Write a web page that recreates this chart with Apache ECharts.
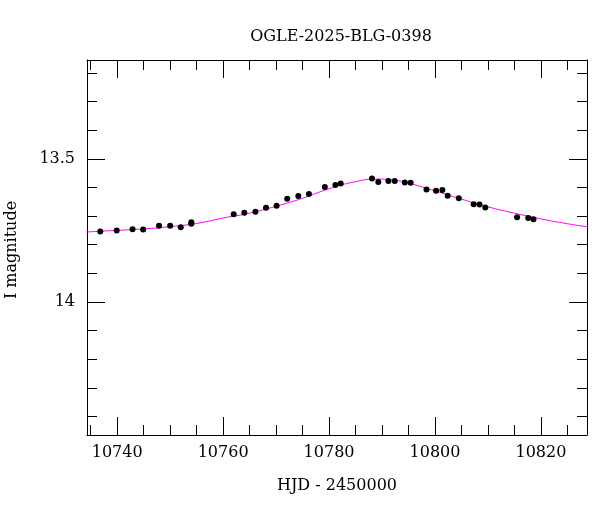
<!DOCTYPE html>
<html><head><meta charset="utf-8">
<script src="https://cdn.jsdelivr.net/npm/echarts@6/dist/echarts.min.js"></script>
<style>html,body{margin:0;background:#fff}#c{width:600px;height:512px}</style>
</head><body><div id="c"></div>
<script>
const title = 'OGLE-2025-BLG-0398';
const obsHJD = [10736.8,10739.9,10742.9,10744.9,10747.9,10750.0,10752.0,10754.0,10754.0,10762.0,10764.0,10766.1,10768.1,10770.1,10772.1,10774.2,10776.2,10779.2,10781.2,10782.2,10788.1,10789.3,10791.2,10792.4,10794.3,10795.4,10798.4,10800.2,10801.4,10802.4,10804.5,10807.3,10808.4,10809.5,10815.5,10817.6,10818.6];
const obsMag = [13.754,13.751,13.746,13.747,13.734,13.734,13.739,13.727,13.722,13.694,13.689,13.685,13.671,13.664,13.640,13.630,13.623,13.599,13.592,13.586,13.569,13.581,13.578,13.578,13.583,13.584,13.607,13.612,13.609,13.629,13.638,13.659,13.660,13.670,13.704,13.707,13.711];
const modelHJD = [10734,10740,10745,10750,10755,10760,10765,10770,10775,10780,10785,10789,10792,10796,10800,10805,10810,10815,10820,10825,10829];
const modelMag = [13.756,13.750,13.745,13.737,13.726,13.707,13.690,13.666,13.638,13.605,13.580,13.571,13.574,13.590,13.612,13.641,13.668,13.690,13.710,13.727,13.738];
const yMajor = [13.5, 14];
const yMinor = [13.2,13.3,13.4,13.6,13.7,13.8,13.9,14.1,14.2,14.3,14.4];
const xMajor = [10740,10760,10780,10800,10820];
const xMinor = [10735,10745,10750,10755,10765,10770,10775,10785,10790,10795,10805,10810,10815,10825];

const F = 'DejaVu Serif';
const ymin=13.155, ymax=14.465, xmin=10734.3, xmax=10828.7;
function yA(pos, ticks, len, label, line){
  return {type:'value', inverse:true, min:ymin, max:ymax, position:pos,
    axisLine:{show:line, lineStyle:{color:'#000',width:1}}, splitLine:{show:false},
    axisTick:{show:true, inside:true, length:len, customValues:ticks, lineStyle:{color:'#000'}},
    axisLabel:{show:label, customValues:ticks, fontFamily:F, fontSize:16, color:'#000', margin:12,
      formatter:v=>String(+v.toFixed(2))}};
}
function xA(pos, ticks, len, label, line){
  return {type:'value', min:xmin, max:xmax, position:pos,
    axisLine:{show:line, onZero:false, lineStyle:{color:'#000',width:1}}, splitLine:{show:false},
    axisTick:{show:true, inside:true, length:len, customValues:ticks, lineStyle:{color:'#000'}},
    axisLabel:{show:label, customValues:ticks, fontFamily:F, fontSize:16, color:'#000', margin:10,
      formatter:v=>String(Math.round(v))}};
}
const chart = echarts.init(document.getElementById('c'));
chart.setOption({
  animation:false,
  title:{text:title, left:336, top:24, textAlign:'center', textStyle:{fontFamily:F, fontSize:16, fontWeight:'normal', color:'#000'}},
  grid:{left:87, right:13, top:60, bottom:77},
  graphic:[
    {type:'text', x:12, y:250, rotation:Math.PI/2, style:{text:'I magnitude', font:'16px "DejaVu Serif"', fill:'#000', textAlign:'center', textVerticalAlign:'middle'}},
    {type:'text', style:{text:'HJD - 2450000', x:337, y:486, font:'16px "DejaVu Serif"', fill:'#000', textAlign:'center', textVerticalAlign:'middle'}}
  ],
  yAxis:[yA('left',yMajor,18,true,true), yA('left',yMinor,10,false,false), yA('right',yMajor,18,false,true), yA('right',yMinor,10,false,false)],
  xAxis:[xA('bottom',xMajor,18,true,true), xA('bottom',xMinor,10,false,false), xA('top',xMajor,18,false,true), xA('top',xMinor,10,false,false)],
  series:[
    {type:'line', smooth:0.5, symbol:'none', data:modelHJD.map((x,i)=>[x,modelMag[i]]), lineStyle:{color:'#ff00ff', width:1}, z:2},
    {type:'scatter', symbolSize:6, data:obsHJD.map((x,i)=>[x,obsMag[i]]), itemStyle:{color:'#000', opacity:1}, z:3}
  ]
});
</script></body></html>
